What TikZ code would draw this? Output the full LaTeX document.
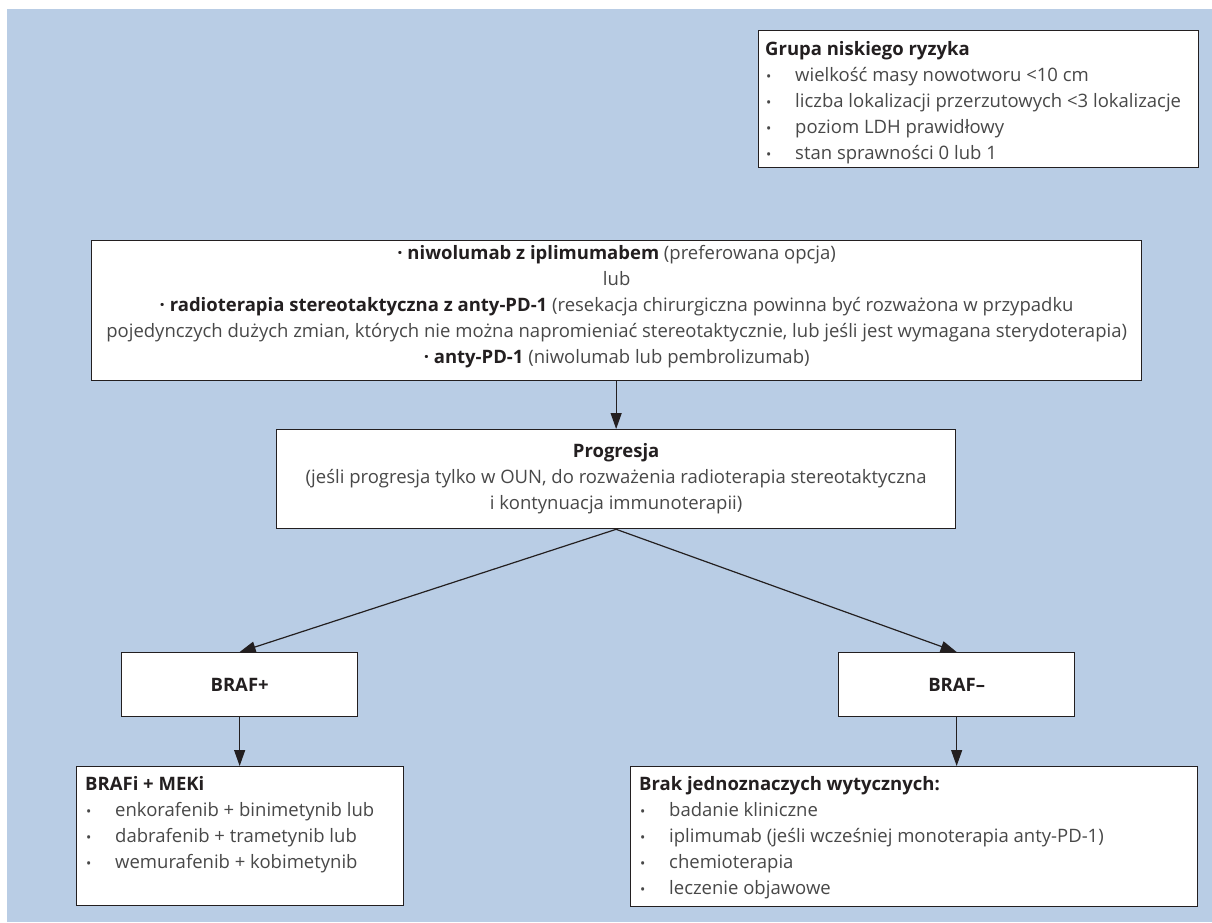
\documentclass[tikz,border=0pt]{standalone}
\usepackage{fontspec}
\setmainfont{Open Sans}
\usetikzlibrary{arrows.meta}

\definecolor{bgblue}{RGB}{185,205,229}
\definecolor{ink}{RGB}{35,31,32}
\definecolor{bodytext}{RGB}{72,72,72}

% small list bullet followed by the item indent
\newcommand\bul{\makebox[30pt][l]{\hspace{1pt}{\fontsize{14}{14}\selectfont •}}}
\newcommand\hd[1]{\textcolor{ink}{\textbf{#1}}}

\begin{document}
\begin{tikzpicture}[x=1pt,y=-1pt,
  box/.style={draw=ink, line width=1.3pt, fill=white, rectangle, inner sep=0pt, anchor=north west},
  txt/.style={font=\fontsize{18.5}{26}\selectfont, text=bodytext, inner sep=0pt},
  listtext/.style={txt, align=left, anchor=north west},
  arr/.style={draw=ink, line width=1.2pt, -{Triangle[length=16pt,width=11pt]}}]

% page and background panel
\useasboundingbox (0,0) rectangle (1212,922);
\fill[white] (0,0) rectangle (1212,922);
\fill[bgblue] (7,9) rectangle (1212,922);

% low risk group
\node[box, minimum width=440pt, minimum height=137pt] (risk) at (758,30) {};
\node[listtext] (risktxt) at ([xshift=7pt,yshift=-11pt]risk.north west)
  {\hd{Grupa niskiego ryzyka}\\
   \bul wielkość masy nowotworu <10 cm\\
   \bul liczba lokalizacji przerzutowych <3 lokalizacje\\
   \bul poziom LDH prawidłowy\\
   \bul stan sprawności 0 lub 1};

% first-line treatment
\node[box, minimum width=1050pt, minimum height=140pt] (main) at (91,240) {};
\node[txt, align=center] (maintxt) at ([yshift=4pt]main.center)
  {\hd{· niwolumab z iplimumabem} (preferowana opcja)\\
   lub\\
   \hd{· radioterapia stereotaktyczna z anty-PD-1} (resekacja chirurgiczna powinna być rozważona w przypadku\\
   pojedynczych dużych zmian, których nie można napromieniać stereotaktycznie, lub jeśli jest wymagana sterydoterapia)\\
   \hd{· anty-PD-1} (niwolumab lub pembrolizumab)};

% progression
\node[box, minimum width=679pt, minimum height=99pt, txt, align=center] (prog) at (276,429)
  {\hd{Progresja}\\
   (jeśli progresja tylko w OUN, do rozważenia radioterapia stereotaktyczna\\
   i kontynuacja immunoterapii)};

% BRAF status
\node[box, minimum width=236pt, minimum height=64pt, txt] (brafp) at (121,652) {\hd{BRAF+}};
\node[box, minimum width=236pt, minimum height=64pt, txt] (brafm) at (838,652) {\hd{BRAF–}};

% BRAF+ treatment
\node[box, minimum width=327pt, minimum height=139pt] (brafi) at (76,766) {};
\node[listtext] (brafitxt) at ([xshift=9pt,yshift=-10pt]brafi.north west)
  {\hd{BRAFi + MEKi}\\
   \bul enkorafenib + binimetynib lub\\
   \bul dabrafenib + trametynib lub\\
   \bul wemurafenib + kobimetynib};

% BRAF- options
\node[box, minimum width=567pt, minimum height=140pt] (brak) at (630,766) {};
\node[listtext] (braktxt) at ([xshift=9pt,yshift=-10pt]brak.north west)
  {\hd{Brak jednoznaczych wytycznych:}\\
   \bul badanie kliniczne\\
   \bul iplimumab (jeśli wcześniej monoterapia anty-PD-1)\\
   \bul chemioterapia\\
   \bul leczenie objawowe};

% connectors
\draw[arr] (main.south -| prog.north) -- (prog.north);
\draw[arr] (prog.south) -- (brafp.north);
\draw[arr] (prog.south) -- (brafm.north);
\draw[arr] (brafp.south) -- (brafp.south |- brafi.north);
\draw[arr] (brafm.south) -- (brafm.south |- brak.north);
\end{tikzpicture}
\end{document}
